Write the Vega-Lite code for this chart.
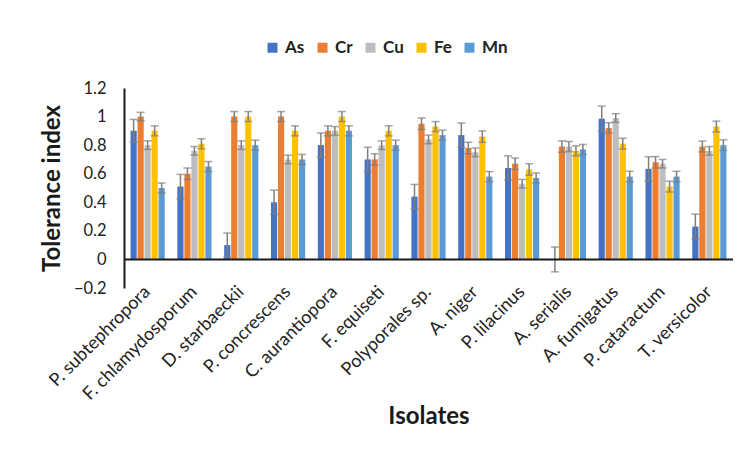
{
  "$schema": "https://vega.github.io/schema/vega-lite/v6.json",
  "width": 609,
  "height": 200,
  "autosize": {"type": "none"},
  "padding": {"left": 124, "top": 88, "right": 13, "bottom": 165},
  "background": "white",
  "config": {"view": {"stroke": null}, "font": "Lato"},
  "data": {
    "values": [
      {"Isolate": "P. subtephropora", "Metal": "As", "v": 0.90, "lo": 0.82, "hi": 0.98},
      {"Isolate": "P. subtephropora", "Metal": "Cr", "v": 1.00, "lo": 0.97, "hi": 1.03},
      {"Isolate": "P. subtephropora", "Metal": "Cu", "v": 0.80, "lo": 0.77, "hi": 0.83},
      {"Isolate": "P. subtephropora", "Metal": "Fe", "v": 0.90, "lo": 0.865, "hi": 0.935},
      {"Isolate": "P. subtephropora", "Metal": "Mn", "v": 0.50, "lo": 0.465, "hi": 0.535},
      {"Isolate": "F. chlamydosporum", "Metal": "As", "v": 0.51, "lo": 0.425, "hi": 0.595},
      {"Isolate": "F. chlamydosporum", "Metal": "Cr", "v": 0.60, "lo": 0.56, "hi": 0.64},
      {"Isolate": "F. chlamydosporum", "Metal": "Cu", "v": 0.76, "lo": 0.73, "hi": 0.79},
      {"Isolate": "F. chlamydosporum", "Metal": "Fe", "v": 0.81, "lo": 0.775, "hi": 0.845},
      {"Isolate": "F. chlamydosporum", "Metal": "Mn", "v": 0.65, "lo": 0.615, "hi": 0.685},
      {"Isolate": "D. starbaeckii", "Metal": "As", "v": 0.10, "lo": 0.015, "hi": 0.185},
      {"Isolate": "D. starbaeckii", "Metal": "Cr", "v": 1.00, "lo": 0.965, "hi": 1.035},
      {"Isolate": "D. starbaeckii", "Metal": "Cu", "v": 0.80, "lo": 0.77, "hi": 0.83},
      {"Isolate": "D. starbaeckii", "Metal": "Fe", "v": 1.00, "lo": 0.965, "hi": 1.035},
      {"Isolate": "D. starbaeckii", "Metal": "Mn", "v": 0.80, "lo": 0.765, "hi": 0.835},
      {"Isolate": "P. concrescens", "Metal": "As", "v": 0.40, "lo": 0.315, "hi": 0.485},
      {"Isolate": "P. concrescens", "Metal": "Cr", "v": 1.00, "lo": 0.965, "hi": 1.035},
      {"Isolate": "P. concrescens", "Metal": "Cu", "v": 0.70, "lo": 0.67, "hi": 0.73},
      {"Isolate": "P. concrescens", "Metal": "Fe", "v": 0.90, "lo": 0.865, "hi": 0.935},
      {"Isolate": "P. concrescens", "Metal": "Mn", "v": 0.70, "lo": 0.665, "hi": 0.735},
      {"Isolate": "C. aurantiopora", "Metal": "As", "v": 0.80, "lo": 0.715, "hi": 0.885},
      {"Isolate": "C. aurantiopora", "Metal": "Cr", "v": 0.90, "lo": 0.865, "hi": 0.935},
      {"Isolate": "C. aurantiopora", "Metal": "Cu", "v": 0.90, "lo": 0.87, "hi": 0.93},
      {"Isolate": "C. aurantiopora", "Metal": "Fe", "v": 1.00, "lo": 0.965, "hi": 1.035},
      {"Isolate": "C. aurantiopora", "Metal": "Mn", "v": 0.90, "lo": 0.865, "hi": 0.935},
      {"Isolate": "F. equiseti", "Metal": "As", "v": 0.70, "lo": 0.615, "hi": 0.785},
      {"Isolate": "F. equiseti", "Metal": "Cr", "v": 0.70, "lo": 0.66, "hi": 0.74},
      {"Isolate": "F. equiseti", "Metal": "Cu", "v": 0.80, "lo": 0.77, "hi": 0.83},
      {"Isolate": "F. equiseti", "Metal": "Fe", "v": 0.90, "lo": 0.865, "hi": 0.935},
      {"Isolate": "F. equiseti", "Metal": "Mn", "v": 0.80, "lo": 0.765, "hi": 0.835},
      {"Isolate": "Polyporales sp.", "Metal": "As", "v": 0.44, "lo": 0.355, "hi": 0.525},
      {"Isolate": "Polyporales sp.", "Metal": "Cr", "v": 0.95, "lo": 0.91, "hi": 0.99},
      {"Isolate": "Polyporales sp.", "Metal": "Cu", "v": 0.84, "lo": 0.81, "hi": 0.87},
      {"Isolate": "Polyporales sp.", "Metal": "Fe", "v": 0.93, "lo": 0.895, "hi": 0.965},
      {"Isolate": "Polyporales sp.", "Metal": "Mn", "v": 0.87, "lo": 0.835, "hi": 0.905},
      {"Isolate": "A. niger", "Metal": "As", "v": 0.87, "lo": 0.785, "hi": 0.955},
      {"Isolate": "A. niger", "Metal": "Cr", "v": 0.78, "lo": 0.74, "hi": 0.82},
      {"Isolate": "A. niger", "Metal": "Cu", "v": 0.75, "lo": 0.72, "hi": 0.78},
      {"Isolate": "A. niger", "Metal": "Fe", "v": 0.86, "lo": 0.82, "hi": 0.90},
      {"Isolate": "A. niger", "Metal": "Mn", "v": 0.58, "lo": 0.545, "hi": 0.615},
      {"Isolate": "P. lilacinus", "Metal": "As", "v": 0.64, "lo": 0.555, "hi": 0.725},
      {"Isolate": "P. lilacinus", "Metal": "Cr", "v": 0.67, "lo": 0.63, "hi": 0.71},
      {"Isolate": "P. lilacinus", "Metal": "Cu", "v": 0.53, "lo": 0.50, "hi": 0.56},
      {"Isolate": "P. lilacinus", "Metal": "Fe", "v": 0.63, "lo": 0.59, "hi": 0.67},
      {"Isolate": "P. lilacinus", "Metal": "Mn", "v": 0.57, "lo": 0.535, "hi": 0.605},
      {"Isolate": "A. serialis", "Metal": "As", "v": 0.00, "lo": -0.087, "hi": 0.087},
      {"Isolate": "A. serialis", "Metal": "Cr", "v": 0.79, "lo": 0.75, "hi": 0.83},
      {"Isolate": "A. serialis", "Metal": "Cu", "v": 0.79, "lo": 0.755, "hi": 0.825},
      {"Isolate": "A. serialis", "Metal": "Fe", "v": 0.76, "lo": 0.725, "hi": 0.795},
      {"Isolate": "A. serialis", "Metal": "Mn", "v": 0.77, "lo": 0.735, "hi": 0.805},
      {"Isolate": "A. fumigatus", "Metal": "As", "v": 0.985, "lo": 0.897, "hi": 1.073},
      {"Isolate": "A. fumigatus", "Metal": "Cr", "v": 0.92, "lo": 0.883, "hi": 0.957},
      {"Isolate": "A. fumigatus", "Metal": "Cu", "v": 0.99, "lo": 0.96, "hi": 1.02},
      {"Isolate": "A. fumigatus", "Metal": "Fe", "v": 0.81, "lo": 0.772, "hi": 0.848},
      {"Isolate": "A. fumigatus", "Metal": "Mn", "v": 0.58, "lo": 0.543, "hi": 0.617},
      {"Isolate": "P. cataractum", "Metal": "As", "v": 0.634, "lo": 0.549, "hi": 0.719},
      {"Isolate": "P. cataractum", "Metal": "Cr", "v": 0.68, "lo": 0.64, "hi": 0.72},
      {"Isolate": "P. cataractum", "Metal": "Cu", "v": 0.67, "lo": 0.64, "hi": 0.70},
      {"Isolate": "P. cataractum", "Metal": "Fe", "v": 0.51, "lo": 0.472, "hi": 0.548},
      {"Isolate": "P. cataractum", "Metal": "Mn", "v": 0.58, "lo": 0.543, "hi": 0.617},
      {"Isolate": "T. versicolor", "Metal": "As", "v": 0.23, "lo": 0.143, "hi": 0.317},
      {"Isolate": "T. versicolor", "Metal": "Cr", "v": 0.79, "lo": 0.752, "hi": 0.828},
      {"Isolate": "T. versicolor", "Metal": "Cu", "v": 0.76, "lo": 0.73, "hi": 0.79},
      {"Isolate": "T. versicolor", "Metal": "Fe", "v": 0.93, "lo": 0.892, "hi": 0.968},
      {"Isolate": "T. versicolor", "Metal": "Mn", "v": 0.80, "lo": 0.763, "hi": 0.837}
    ]
  },
  "layer": [
    {
      "mark": {"type": "bar"},
      "encoding": {
        "x": {
          "field": "Isolate", "type": "nominal", "sort": null,
          "scale": {"paddingInner": 0.27, "paddingOuter": 0.14},
          "axis": {
            "domain": false, "ticks": false, "grid": false,
            "labelAngle": -45, "labelAlign": "right", "labelBaseline": "middle",
            "labelFontSize": 18, "labelPadding": 1, "labelColor": "#222", "labelLimit": 0,
            "title": "Isolates", "titleFontSize": 24, "titleFontWeight": "bold",
            "titleColor": "#1a1a1a", "titleY": 128, "titleBaseline": "middle"
          }
        },
        "xOffset": {"field": "Metal", "type": "nominal", "sort": ["As", "Cr", "Cu", "Fe", "Mn"], "scale": {"paddingInner": 0.12}},
        "y": {
          "field": "v", "type": "quantitative",
          "scale": {"domain": [-0.2, 1.2], "nice": false, "zero": false},
          "axis": {
            "tickCount": 7,
            "format": ".1~f",
            "labelOverlap": false, "labelFlush": false, "labelBound": false,
            "domain": true, "domainColor": "#1a1a1a", "domainWidth": 2,
            "ticks": false, "grid": false,
            "labelFontSize": 16.5, "labelPadding": 18, "labelColor": "#222",
            "title": "Tolerance index", "titleFontSize": 24, "titleFontWeight": "bold",
            "titleColor": "#1a1a1a", "titleX": -72, "titleY": 100, "titleBaseline": "middle", "titleAlign": "center", "titleAngle": -90
          }
        },
        "color": {
          "field": "Metal", "type": "nominal",
          "scale": {"domain": ["As", "Cr", "Cu", "Fe", "Mn"], "range": ["#4472C4", "#ED7D31", "#BDBDBD", "#FFC000", "#5B9BD5"]},
          "legend": {
            "orient": "none", "legendX": 140, "legendY": -49, "direction": "horizontal",
            "title": null, "symbolType": "square", "symbolSize": 100, "symbolStrokeWidth": 0,
            "labelFontSize": 17, "labelFontWeight": "bold", "labelColor": "#222",
            "columnPadding": 9, "labelOffset": 4, "padding": 0
          }
        }
      }
    },
    {
      "mark": {"type": "rule", "color": "#7f7f7f", "strokeWidth": 1.5},
      "encoding": {
        "x": {"field": "Isolate", "type": "nominal", "sort": null},
        "xOffset": {"field": "Metal", "type": "nominal", "sort": ["As", "Cr", "Cu", "Fe", "Mn"]},
        "y": {"field": "lo", "type": "quantitative"},
        "y2": {"field": "hi"}
      }
    },
    {
      "mark": {"type": "tick", "color": "#7f7f7f", "size": 8, "thickness": 1.5},
      "encoding": {
        "x": {"field": "Isolate", "type": "nominal", "sort": null},
        "xOffset": {"field": "Metal", "type": "nominal", "sort": ["As", "Cr", "Cu", "Fe", "Mn"]},
        "y": {"field": "lo", "type": "quantitative"}
      }
    },
    {
      "mark": {"type": "tick", "color": "#7f7f7f", "size": 8, "thickness": 1.5},
      "encoding": {
        "x": {"field": "Isolate", "type": "nominal", "sort": null},
        "xOffset": {"field": "Metal", "type": "nominal", "sort": ["As", "Cr", "Cu", "Fe", "Mn"]},
        "y": {"field": "hi", "type": "quantitative"}
      }
    },
    {
      "data": {"values": [{}]},
      "mark": {"type": "rule", "color": "#1a1a1a", "strokeWidth": 2},
      "encoding": {"y": {"datum": 0}}
    }
  ]
}
